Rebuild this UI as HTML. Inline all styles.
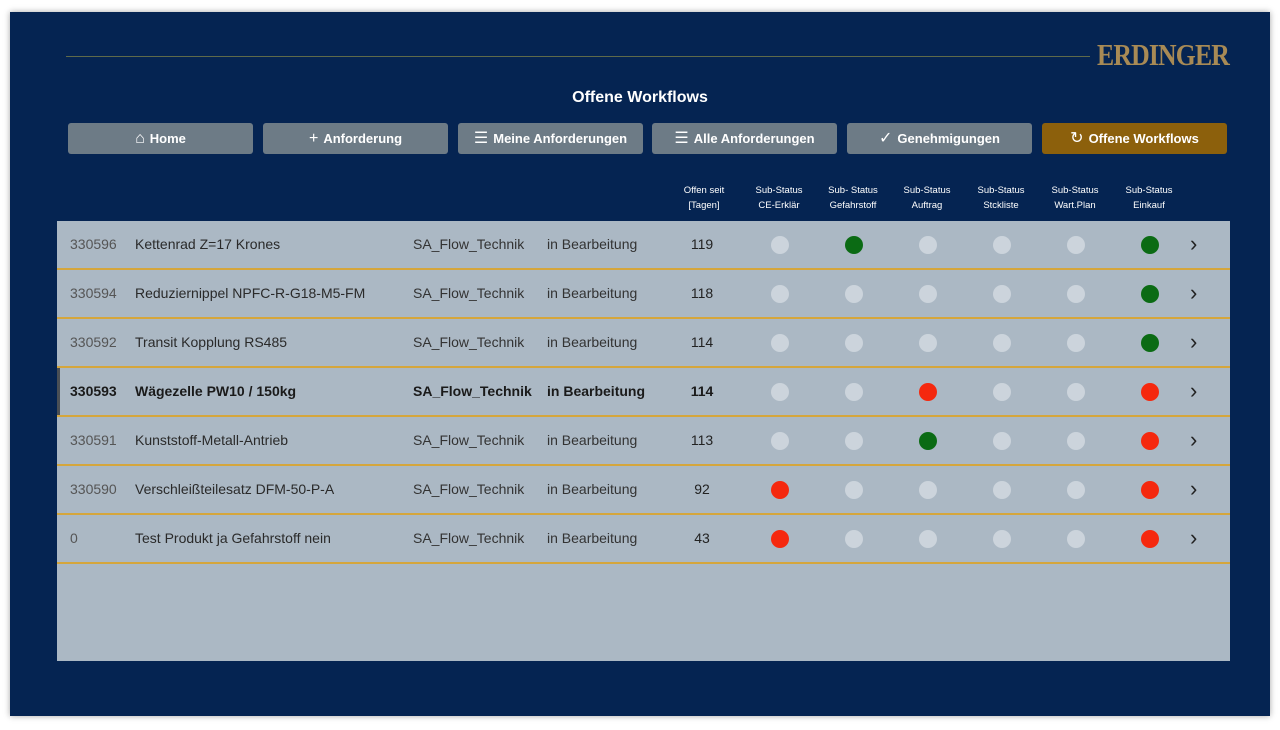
<!DOCTYPE html>
<html><head><meta charset="utf-8"><style>
*{margin:0;padding:0;box-sizing:border-box}
body{width:1280px;height:730px;background:#fff;position:relative;overflow:hidden;font-family:"Liberation Sans",sans-serif}
#panel{position:absolute;left:10px;top:12px;width:1260px;height:704px;background:#052452;box-shadow:0 0 6px rgba(0,0,0,.35)}
.abs{position:absolute}
.line{left:66px;top:56px;width:1024px;height:1px;background:#5f6a4a}
.logo{left:1097px;top:37px;font-family:"Liberation Serif",serif;font-weight:bold;font-size:31px;color:#a88a55;letter-spacing:-1px;transform:scaleX(.83);transform-origin:left}
.title{left:0;width:1280px;top:89px;text-align:center;color:#fff;font-weight:bold;font-size:16px}
.btn{top:123px;height:31px;width:185px;background:#6d7b86;border-radius:3px;color:#fff;font-weight:bold;font-size:13px;text-align:center;line-height:31px}
.btn.on{background:#8c600c}
.btn span{font-weight:normal;font-size:16px;margin-right:5px}
.hd{top:183px;width:70px;text-align:center;color:#fff;font-size:9.5px;line-height:15px}
#tbl{left:57px;top:221px;width:1173px;height:440px;background:#abb8c4}
.row{position:absolute;left:0;width:1173px;height:49px;border-bottom:2px solid #d5a63c;font-size:14px;color:#333;}
.row div{position:absolute;top:15px;white-space:nowrap}
.row .id{left:13px;color:#555}
.row .nm{left:78px;color:#2a2a2a}
.row .sa{left:356px;color:#333}
.row .st{left:490px;color:#333}
.row .d{left:615px;width:60px;text-align:center;color:#222}
.dot{position:absolute;top:15px!important;width:18px;height:18px;border-radius:50%;background:#ccd4dc}
.g{background:#0b6b14!important}.r{background:#f5280e!important}
.ch{left:1133px;top:10px!important;font-size:22px!important;color:#222;font-weight:normal!important}
.sel .nm,.sel .sa,.sel .st,.sel .d,.sel .id{font-weight:bold;color:#1a1a1a}
.sel{box-shadow:inset 3px 0 0 #4a4f55}
</style></head><body>
<div id="panel"></div>
<div class="abs line"></div>
<div class="abs logo">ERDINGER</div>
<div class="abs title">Offene Workflows</div>
<div class="abs btn" style="left:68px"><span>⌂</span>Home</div>
<div class="abs btn" style="left:263px"><span>+</span>Anforderung</div>
<div class="abs btn" style="left:458px"><span>☰</span>Meine Anforderungen</div>
<div class="abs btn" style="left:652px"><span>☰</span>Alle Anforderungen</div>
<div class="abs btn" style="left:847px"><span>✓</span>Genehmigungen</div>
<div class="abs btn on" style="left:1042px"><span>↻</span>Offene Workflows</div>
<div class="abs hd" style="left:669px">Offen seit<br>[Tagen]</div>
<div class="abs hd" style="left:744px">Sub-Status<br>CE-Erklär</div>
<div class="abs hd" style="left:818px">Sub- Status<br>Gefahrstoff</div>
<div class="abs hd" style="left:892px">Sub-Status<br>Auftrag</div>
<div class="abs hd" style="left:966px">Sub-Status<br>Stckliste</div>
<div class="abs hd" style="left:1040px">Sub-Status<br>Wart.Plan</div>
<div class="abs hd" style="left:1114px">Sub-Status<br>Einkauf</div>
<div class="abs" id="tbl">
<div class="row" style="top:0"><div class="id">330596</div><div class="nm">Kettenrad Z=17 Krones</div><div class="sa">SA_Flow_Technik</div><div class="st">in Bearbeitung</div><div class="d">119</div>
<div class="dot" style="left:714px"></div><div class="dot g" style="left:788px"></div><div class="dot" style="left:862px"></div><div class="dot" style="left:936px"></div><div class="dot" style="left:1010px"></div><div class="dot g" style="left:1084px"></div><div class="ch">›</div></div>
<div class="row" style="top:49px"><div class="id">330594</div><div class="nm">Reduziernippel NPFC-R-G18-M5-FM</div><div class="sa">SA_Flow_Technik</div><div class="st">in Bearbeitung</div><div class="d">118</div>
<div class="dot" style="left:714px"></div><div class="dot" style="left:788px"></div><div class="dot" style="left:862px"></div><div class="dot" style="left:936px"></div><div class="dot" style="left:1010px"></div><div class="dot g" style="left:1084px"></div><div class="ch">›</div></div>
<div class="row" style="top:98px"><div class="id">330592</div><div class="nm">Transit Kopplung RS485</div><div class="sa">SA_Flow_Technik</div><div class="st">in Bearbeitung</div><div class="d">114</div>
<div class="dot" style="left:714px"></div><div class="dot" style="left:788px"></div><div class="dot" style="left:862px"></div><div class="dot" style="left:936px"></div><div class="dot" style="left:1010px"></div><div class="dot g" style="left:1084px"></div><div class="ch">›</div></div>
<div class="row sel" style="top:147px"><div class="id">330593</div><div class="nm">Wägezelle PW10 / 150kg</div><div class="sa">SA_Flow_Technik</div><div class="st">in Bearbeitung</div><div class="d">114</div>
<div class="dot" style="left:714px"></div><div class="dot" style="left:788px"></div><div class="dot r" style="left:862px"></div><div class="dot" style="left:936px"></div><div class="dot" style="left:1010px"></div><div class="dot r" style="left:1084px"></div><div class="ch">›</div></div>
<div class="row" style="top:196px"><div class="id">330591</div><div class="nm">Kunststoff-Metall-Antrieb</div><div class="sa">SA_Flow_Technik</div><div class="st">in Bearbeitung</div><div class="d">113</div>
<div class="dot" style="left:714px"></div><div class="dot" style="left:788px"></div><div class="dot g" style="left:862px"></div><div class="dot" style="left:936px"></div><div class="dot" style="left:1010px"></div><div class="dot r" style="left:1084px"></div><div class="ch">›</div></div>
<div class="row" style="top:245px"><div class="id">330590</div><div class="nm">Verschleißteilesatz DFM-50-P-A</div><div class="sa">SA_Flow_Technik</div><div class="st">in Bearbeitung</div><div class="d">92</div>
<div class="dot r" style="left:714px"></div><div class="dot" style="left:788px"></div><div class="dot" style="left:862px"></div><div class="dot" style="left:936px"></div><div class="dot" style="left:1010px"></div><div class="dot r" style="left:1084px"></div><div class="ch">›</div></div>
<div class="row" style="top:294px"><div class="id">0</div><div class="nm">Test Produkt ja Gefahrstoff nein</div><div class="sa">SA_Flow_Technik</div><div class="st">in Bearbeitung</div><div class="d">43</div>
<div class="dot r" style="left:714px"></div><div class="dot" style="left:788px"></div><div class="dot" style="left:862px"></div><div class="dot" style="left:936px"></div><div class="dot" style="left:1010px"></div><div class="dot r" style="left:1084px"></div><div class="ch">›</div></div>
</div>
</body></html>
